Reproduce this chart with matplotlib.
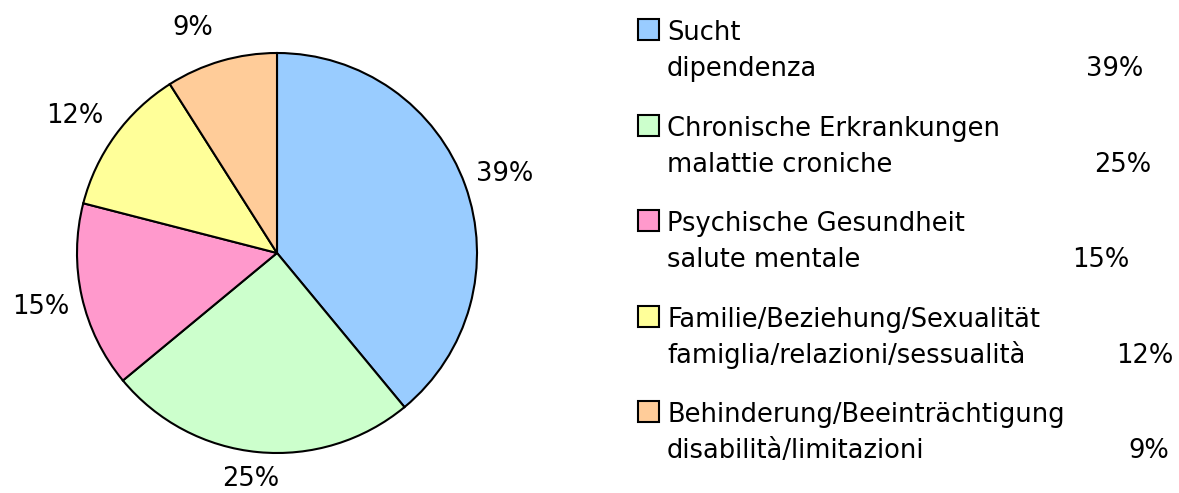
import matplotlib
matplotlib.use("Agg")
import matplotlib.pyplot as plt
from matplotlib.patches import Rectangle
import numpy as np

# ---- data ----
labels_de = ["Sucht", "Chronische Erkrankungen", "Psychische Gesundheit",
             "Familie/Beziehung/Sexualität", "Behinderung/Beeinträchtigung"]
labels_it = ["dipendenza", "malattie croniche", "salute mentale",
             "famiglia/relazioni/sessualità", "disabilità/limitazioni"]
values = [39, 25, 15, 12, 9]
colors = ["#99CCFF", "#CCFFCC", "#FF99CC", "#FFFF99", "#FFCC99"]

# ---- layout ----
W, H = 1179, 493
DPI = 100
plt.rcParams['font.family'] = ['DejaVu Sans']
FS = 18.5

fig = plt.figure(figsize=(W / DPI, H / DPI), dpi=DPI)

cx, cy, R = 277, 253, 200          # pie centre / radius in pixels (y from top)
half = 1.3 * R
ax = fig.add_axes([(cx - half) / W, (H - cy - half) / H, 2 * half / W, 2 * half / H])
wedges, texts, autotexts = ax.pie(
    values, colors=colors, startangle=90, counterclock=False,
    autopct=lambda p: f"{p:.0f}%", pctdistance=1.21,
    wedgeprops=dict(edgecolor="black", linewidth=1.5),
    textprops=dict(fontsize=FS, color="black"))
label_dist = [1.207, 1.125, 1.208, 1.229, 1.215]
label_dang = [0.0, -1.35, -0.2, 1.3, 4.0]
for w, t, d, da in zip(wedges, autotexts, label_dist, label_dang):
    ang = np.deg2rad((w.theta1 + w.theta2) / 2 + da)
    t.set_position((d * np.cos(ang), d * np.sin(ang) - 0.013))
ax.set_xlim(-1.3, 1.3)
ax.set_ylim(-1.3, 1.3)
ax.set_aspect("equal")
ax.axis("off")

# ---- legend drawn by hand ----
def px(x, y):
    return x / W, 1 - y / H

row_step = 95.6
base1 = 40
line_gap = 36
pct_right = [1143, 1151, 1129, 1173, 1169]
sq_x, sq_size, txt_x = 638, 21, 667
for i, v in enumerate(values):
    b1 = base1 + i * row_step
    b2 = b1 + line_gap
    fig.patches.append(Rectangle(px(sq_x, b1), sq_size / W, sq_size / H,
                                 transform=fig.transFigure, facecolor=colors[i],
                                 edgecolor="black", linewidth=1.5))
    fig.text(*px(txt_x, b1), labels_de[i], fontsize=FS, va="baseline", ha="left")
    fig.text(*px(txt_x, b2), labels_it[i], fontsize=FS, va="baseline", ha="left")
    fig.text(*px(pct_right[i], b2), f"{v}%", fontsize=FS, va="baseline", ha="right")

fig.savefig("out.png", dpi=DPI)
